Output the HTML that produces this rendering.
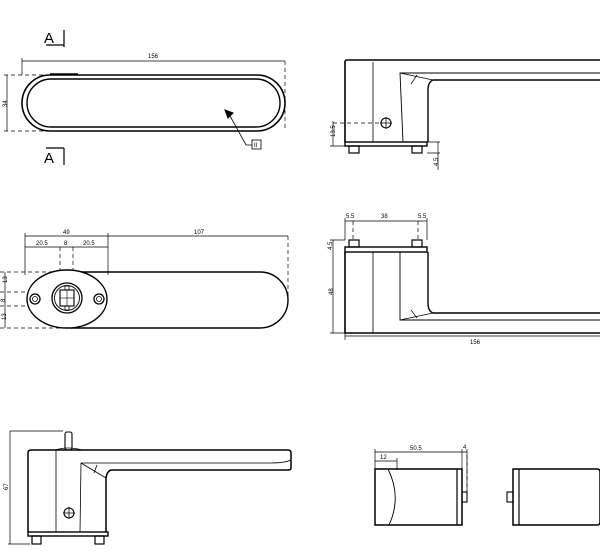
<!DOCTYPE html>
<html><head><meta charset="utf-8"><style>
html,body{margin:0;padding:0;background:#fff;}
svg{display:block;}
text{font-family:"Liberation Sans",sans-serif;font-size:6px;fill:#000;}
</style></head><body>
<svg width="600" height="551" viewBox="0 0 600 551" xmlns="http://www.w3.org/2000/svg" fill="none" stroke="#000" stroke-width="1">
<!-- TOP LEFT -->
<g>
<path d="M46 45 H64 M64 30 V47" stroke-width="1.2"/>
<text x="44" y="43" style="font-size:15px" stroke="none">A</text>
<path d="M46 148 H64 M64 148 V165" stroke-width="1.2"/>
<text x="44" y="163" style="font-size:15px" stroke="none">A</text>
<line x1="22" y1="61" x2="285" y2="61" stroke-width="0.7"/>
<line x1="22" y1="58" x2="22" y2="75" stroke-width="0.7"/>
<text x="148" y="58" stroke="none">156</text>
<line x1="285" y1="61" x2="285" y2="131" stroke-dasharray="4,3" stroke-width="0.7"/>
<line x1="4" y1="75" x2="50" y2="75" stroke-dasharray="4,3" stroke-width="0.7"/>
<line x1="4" y1="131" x2="50" y2="131" stroke-dasharray="4,3" stroke-width="0.7"/>
<line x1="7" y1="75" x2="7" y2="131" stroke-width="0.7"/>
<text x="0" y="106" stroke="none" transform="rotate(-90 4 103)">34</text>
<rect x="22" y="75" width="263" height="56" rx="28" stroke-width="1.6"/>
<rect x="27" y="79" width="253" height="48" rx="24" stroke-width="1.4"/>
<line x1="50" y1="74" x2="78" y2="74" stroke-width="1.5"/>
<path d="M252 145 L246 145 L229 114" stroke-width="0.8"/>
<path d="M225 110 L233 113 L228 118 Z" fill="#000"/>
<rect x="252" y="140" width="9" height="9" stroke-width="0.8"/>
<text x="254" y="147" stroke="none">II</text>
</g>
<!-- MID LEFT -->
<g stroke-width="0.7">
<line x1="25" y1="236" x2="288" y2="236"/>
<line x1="25" y1="233" x2="25" y2="275"/>
<line x1="108" y1="233" x2="108" y2="275"/>
<line x1="288" y1="236" x2="288" y2="300" stroke-dasharray="4,3"/>
<text x="63" y="234" stroke="none">49</text>
<text x="194" y="234" stroke="none">107</text>
<line x1="25" y1="247" x2="108" y2="247"/>
<line x1="60" y1="247" x2="60" y2="285" stroke-dasharray="4,3"/>
<line x1="73" y1="247" x2="73" y2="285" stroke-dasharray="4,3"/>
<text x="36" y="245" stroke="none">20.5</text>
<text x="64" y="245" stroke="none">8</text>
<text x="83" y="245" stroke="none">20.5</text>
<line x1="0" y1="272" x2="60" y2="272" stroke-dasharray="4,3"/>
<line x1="0" y1="292" x2="40" y2="292" stroke-dasharray="4,3"/>
<line x1="0" y1="306" x2="40" y2="306" stroke-dasharray="4,3"/>
<line x1="0" y1="328" x2="60" y2="328" stroke-dasharray="4,3"/>
<line x1="5" y1="272" x2="5" y2="328"/>
<text x="0" y="284" stroke="none" transform="rotate(-90 3 280)">13</text>
<text x="0" y="301" stroke="none" transform="rotate(-90 3 299)">8</text>
<text x="0" y="320" stroke="none" transform="rotate(-90 3 317)">13</text>
</g>
<path d="M70 272 H260 A28 28 0 0 1 260 328 H70" stroke-width="1.4"/>
<ellipse cx="67" cy="299" rx="40" ry="29" fill="#fff" stroke-width="1.4"/>
<circle cx="35" cy="299" r="5" stroke-width="1.3"/><circle cx="35" cy="299" r="2.5" stroke-width="0.8"/>
<circle cx="99" cy="299" r="5" stroke-width="1.3"/><circle cx="99" cy="299" r="2.5" stroke-width="0.8"/>
<circle cx="67" cy="298" r="15" stroke-width="1.3"/>
<circle cx="67" cy="298" r="12.5" stroke-width="0.9"/>
<rect x="60" y="290" width="14" height="16" stroke-width="1.1"/>
<line x1="67" y1="290" x2="67" y2="306" stroke-width="0.6"/>
<line x1="60" y1="298" x2="74" y2="298" stroke-width="0.6"/>
<rect x="65" y="286" width="4" height="4" stroke-width="0.8"/>
<rect x="65" y="306" width="4" height="4" stroke-width="0.8"/>
<!-- TOP RIGHT -->
<g>
<path d="M600 60 H347 Q345 60 345 62 V142" stroke-width="1.6"/>
<line x1="373" y1="62" x2="373" y2="142" stroke-width="0.8"/>
<path d="M600 73 H400 L403 142" stroke-width="0.9"/>
<path d="M600 80 H433 Q428 82 428 90 V142" stroke-width="1.4"/>
<path d="M400 73 L433 80 M417 75 L411 84" stroke-width="0.7"/>
<rect x="345" y="142" width="82" height="4" stroke-width="1.4"/>
<rect x="349" y="146" width="10" height="7" stroke-width="1.2"/>
<rect x="412" y="146" width="10" height="7" stroke-width="1.2"/>
<circle cx="386" cy="123" r="5" stroke-width="1.1"/>
<path d="M380 123 H392 M386 117 V129" stroke-width="0.8"/>
<path d="M333 123 H380" stroke-dasharray="4,3" stroke-width="0.7"/>
<path d="M333 121 V146 M330 146 H345" stroke-width="0.7"/>
<text x="326" y="140" stroke="none" transform="rotate(-90 329 134)">13.5</text>
<path d="M427 142 H440 M438 142 V170 M427 153 H440" stroke-width="0.7"/>
<text x="430" y="168" stroke="none" transform="rotate(-90 433 163)">4.5</text>
</g>
<!-- MID RIGHT -->
<g>
<path d="M345 221 H427 M345 218 V240 M427 218 V240" stroke-width="0.7"/>
<path d="M353 221 V240 M418 221 V240" stroke-dasharray="4,3" stroke-width="0.7"/>
<text x="346" y="218" stroke="none">5.5</text>
<text x="381" y="218" stroke="none">38</text>
<text x="418" y="218" stroke="none">5.5</text>
<rect x="349" y="240" width="10" height="7" stroke-width="1.2"/>
<rect x="412" y="240" width="10" height="7" stroke-width="1.2"/>
<rect x="345" y="247" width="82" height="5" stroke-width="1.4"/>
<path d="M345 252 V333 H600" stroke-width="1.6"/>
<line x1="373" y1="252" x2="373" y2="333" stroke-width="0.8"/>
<path d="M600 320 H400 L400 252" stroke-width="0.9"/>
<path d="M600 313 H433 Q428 311 428 303 V252" stroke-width="1.4"/>
<path d="M400 320 L433 313 M411 310 L417 318" stroke-width="0.7"/>
<path d="M330 240 H345 M333 240 V333 M330 333 H345" stroke-width="0.7"/>
<text x="325" y="249" stroke="none" transform="rotate(-90 329 246)">4.5</text>
<text x="327" y="295" stroke="none" transform="rotate(-90 330 292)">48</text>
<path d="M345 336 H600 M345 333 V340" stroke-width="0.7"/>
<text x="470" y="344" stroke="none">156</text>
</g>
<!-- BOTTOM LEFT -->
<g>
<path d="M10 431 H63 M10 431 V544 M8 544 H30" stroke-width="0.7"/>
<text x="2" y="490" stroke="none" transform="rotate(-90 5 487)">67</text>
<rect x="65" y="432" width="7" height="18" rx="2" stroke-width="1.1"/>
<path d="M28 532 V453 Q28 450 31 450 H288 Q291 450 291 453 V468 Q291 470 288 470 H111 Q106 472 106 480 V532" stroke-width="1.5"/>
<path d="M55 450 Q68 446 82 450" stroke-width="0.8"/>
<line x1="56" y1="450" x2="56" y2="532" stroke-width="0.8"/>
<path d="M111 463 H270 Q285 463 291 460" stroke-width="0.8"/>
<path d="M81 463 H111 M81 463 L80 532 M81 463 L106 478 M97 465 L94 473" stroke-width="0.8"/>
<rect x="28" y="532" width="80" height="4" stroke-width="1.4"/>
<rect x="32" y="536" width="9" height="8" stroke-width="1.2"/>
<rect x="95" y="536" width="9" height="8" stroke-width="1.2"/>
<circle cx="69" cy="513" r="5" stroke-width="1.1"/>
<path d="M63 513 H75 M69 507 V519" stroke-width="0.8"/>
</g>
<!-- BOTTOM RIGHT -->
<g>
<path d="M375 452 H467 M375 449 V470 M462 449 V470 M467 449 V500" stroke-width="0.7"/>
<path d="M467 455 V492" stroke-dasharray="4,3" stroke-width="0.7"/>
<text x="410" y="450" stroke="none">50.5</text>
<text x="463" y="449" stroke="none">4</text>
<path d="M375 461 H397 M397 458 V470" stroke-width="0.7"/>
<text x="380" y="459" stroke="none">12</text>
<rect x="375" y="469" width="87" height="56" stroke-width="1.5"/>
<line x1="457" y1="469" x2="457" y2="525" stroke-width="1.2"/>
<path d="M388 469 Q402 497 389 525" stroke-width="0.9"/>
<rect x="462" y="492" width="5" height="10" stroke-width="1.1"/>
<path d="M513 469 H597 Q600 469 600 472 V522 Q600 525 597 525 H513 Z" stroke-width="1.5"/>
<line x1="519" y1="469" x2="519" y2="525" stroke-width="1.2"/>
<rect x="507" y="492" width="6" height="10" stroke-width="1.1"/>
</g>
</svg>
</body></html>
